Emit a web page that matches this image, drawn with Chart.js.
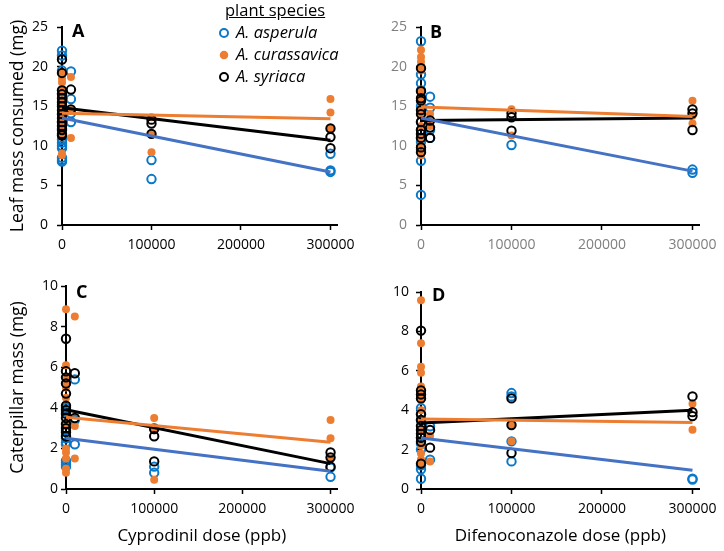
<!DOCTYPE html>
<html>
<head>
<meta charset="utf-8">
<script src="https://cdn.jsdelivr.net/npm/chart.js@4.4.0/dist/chart.umd.min.js"></script>
<style>
  body { margin: 0; background: #fff; font-family: 'Open Sans', sans-serif; }
  #page { position: relative; width: 724px; height: 551px; overflow: hidden; }
  .panel { position: absolute; }
  .letter { position: absolute; font-weight: bold; font-size: 18px; line-height: 18px; color: #000; }
  #legend { position: absolute; left: 219px; top: -1px; font-size: 16.5px; color: #000; }
  #legend .head { text-decoration: underline; margin-left: 6px; line-height: 22px; }
  #legend .row { font-style: italic; line-height: 22px; white-space: nowrap; }
  #legend .dot { display: inline-block; width: 10px; height: 10px; border-radius: 50%; margin-right: 7px; vertical-align: 0px; box-sizing: border-box; }
</style>
</head>
<body>
<div id="page">
  <div class="panel" style="left:0;top:0"><canvas id="chartA" width="362" height="262"></canvas></div>
  <div class="panel" style="left:362px;top:0"><canvas id="chartB" width="362" height="262"></canvas></div>
  <div class="panel" style="left:0;top:262px"><canvas id="chartC" width="362" height="289"></canvas></div>
  <div class="panel" style="left:362px;top:262px"><canvas id="chartD" width="362" height="289"></canvas></div>
  <div class="letter" style="left:72px;top:21px">A</div>
  <div class="letter" style="left:430px;top:22px">B</div>
  <div class="letter" style="left:76px;top:282px">C</div>
  <div class="letter" style="left:432px;top:285px">D</div>
  <div id="legend">
    <div class="head">plant species</div>
    <div class="row"><span class="dot" style="border:2px solid #0a78c8"></span>A. asperula</div>
    <div class="row"><span class="dot" style="background:#ed7d31;transform:scale(0.85)"></span>A. curassavica</div>
    <div class="row"><span class="dot" style="border:2px solid #000"></span>A. syriaca</div>
  </div>
</div>
<script>
const doseTicks = [0, 100000, 200000, 300000];
const fitDoses = [0, 300000];
const leafTicks = [0, 5, 10, 15, 20, 25];
const massTicks = [0, 2, 4, 6, 8, 10];

// A: leaf mass consumed vs cyprodinil dose  [dose, mg]
const leafCypAsperula = [[0,22.0],[0,21.4],[0,19.5],[0,17.0],[0,16.6],[0,15.2],[0,14.0],[0,13.0],[0,12.2],[0,10.8],[0,10.4],[0,10.0],[0,9.7],[0,8.5],[0,8.2],[0,8.0],
  [10000,19.4],[10000,15.9],[10000,14.1],[10000,13.0],[100000,8.2],[100000,5.8],[300000,9.0],[300000,6.9],[300000,6.7]];
const leafCypCurassavica = [[0,19.3],[0,18.5],[0,18.0],[0,17.0],[0,16.7],[0,15.5],[0,14.5],[0,13.5],[0,13.0],[0,12.5],[0,12.0],[0,11.5],[0,9.0],[0,8.8],
  [10000,18.7],[10000,14.5],[10000,11.0],[100000,13.6],[100000,11.6],[100000,9.2],[300000,15.9],[300000,14.2],[300000,12.2],[300000,12.0]];
const leafCypSyriaca = [[0,20.9],[0,19.2],[0,17.0],[0,16.5],[0,16.0],[0,15.5],[0,15.0],[0,14.5],[0,14.0],[0,13.5],[0,13.0],[0,12.5],[0,12.0],[0,11.5],[0,11.3],
  [10000,17.1],[10000,14.6],[100000,13.3],[100000,12.8],[100000,11.5],[300000,12.2],[300000,11.1],[300000,9.7]];
const leafCypFits = [[13.5, 6.7], [14.1, 13.4], [14.8, 10.7]];

// B: leaf mass consumed vs difenoconazole dose
const leafDifAsperula = [[0,23.2],[0,19.0],[0,17.9],[0,17.0],[0,15.0],[0,13.0],[0,12.0],[0,11.0],[0,10.5],[0,9.5],[0,8.1],[0,3.8],
  [10000,16.2],[10000,14.8],[10000,12.0],[10000,11.0],[100000,10.1],[300000,7.0],[300000,6.6]];
const leafDifCurassavica = [[0,22.1],[0,21.2],[0,20.6],[0,20.0],[0,19.5],[0,17.0],[0,16.0],[0,15.0],[0,14.0],[0,12.5],[0,11.0],[0,10.0],[0,9.0],[0,8.8],
  [10000,14.0],[10000,13.0],[10000,12.5],[100000,14.6],[100000,11.3],[300000,15.7],[300000,13.8],[300000,12.8]];
const leafDifSyriaca = [[0,19.8],[0,16.9],[0,16.0],[0,15.7],[0,14.5],[0,14.0],[0,13.0],[0,12.0],[0,11.5],[0,11.0],[0,9.8],[0,9.2],
  [10000,13.2],[10000,12.3],[10000,11.0],[100000,14.1],[100000,13.6],[100000,11.9],[300000,14.6],[300000,14.1],[300000,12.0]];
const leafDifFits = [[13.5, 6.8], [14.9, 13.7], [13.2, 13.5]];

// C: caterpillar mass vs cyprodinil dose
const massCypAsperula = [[0,4.0],[0,3.8],[0,2.9],[0,2.5],[0,2.3],[0,2.2],[0,1.4],[0,1.3],[0,1.2],[0,1.1],
  [10000,5.4],[10000,3.4],[10000,2.2],[100000,3.0],[100000,1.1],[100000,0.8],[300000,1.05],[300000,0.6]];
const massCypCurassavica = [[0,8.85],[0,6.1],[0,5.5],[0,5.2],[0,5.0],[0,4.5],[0,3.2],[0,2.0],[0,1.8],[0,1.5],[0,1.0],[0,0.8],
  [10000,8.5],[10000,3.1],[10000,1.5],[100000,3.5],[100000,2.9],[100000,0.46],[300000,3.4],[300000,2.5],[300000,1.5]];
const massCypSyriaca = [[0,7.4],[0,5.8],[0,5.5],[0,5.2],[0,4.7],[0,4.1],[0,3.9],[0,3.7],[0,3.5],[0,3.2],[0,3.0],[0,2.8],[0,2.6],
  [10000,5.7],[10000,3.5],[100000,2.95],[100000,2.6],[100000,1.36],[300000,1.8],[300000,1.55],[300000,1.1]];
const massCypFits = [[2.5, 0.87], [3.54, 2.3], [3.9, 1.25]];

// D: caterpillar mass vs difenoconazole dose
const massDifAsperula = [[0,4.1],[0,3.8],[0,3.5],[0,2.6],[0,2.3],[0,2.0],[0,1.2],[0,1.0],[0,0.52],
  [10000,3.18],[10000,1.49],[100000,4.87],[100000,4.7],[100000,2.42],[100000,1.4],[300000,0.52],[300000,0.48]];
const massDifCurassavica = [[0,9.58],[0,7.4],[0,6.2],[0,5.9],[0,5.2],[0,4.8],[0,4.5],[0,4.0],[0,3.5],[0,3.0],[0,2.2],[0,1.8],[0,1.5],[0,1.3],
  [10000,2.7],[10000,1.39],[100000,3.27],[100000,2.42],[300000,4.33],[300000,3.01]];
const massDifSyriaca = [[0,8.04],[0,5.0],[0,4.8],[0,4.6],[0,3.8],[0,3.5],[0,3.2],[0,3.0],[0,2.8],[0,2.6],[0,2.4],[0,1.29],
  [10000,3.0],[10000,2.1],[100000,4.6],[100000,3.25],[100000,1.83],[300000,4.7],[300000,3.9],[300000,3.7]];
const massDifFits = [[2.59, 0.95], [3.55, 3.38], [3.35, 4.0]];

const fontFamily = "'Open Sans', sans-serif";
const pointColors = ['#0a78c8', '#ed7d31', '#000000'];
const lineColors = ['#4472c4', '#ed7d31', '#000000'];

function toXY(pairs) {
  return pairs.map(p => ({ x: p[0], y: p[1] }));
}

function makePanel(id, series, fits, o) {
  const datasets = [];
  series.forEach((s, i) => {
    const filled = i === 1;
    datasets.push({
      data: toXY(s),
      pointRadius: filled ? 4 : 4.2,
      pointHoverRadius: 4,
      pointBorderWidth: filled ? 0 : 2,
      pointBorderColor: pointColors[i],
      pointBackgroundColor: filled ? pointColors[i] : 'rgba(0,0,0,0)',
      showLine: false,
      clip: false,
      order: 3 - i
    });
  });
  fits.forEach((f, i) => {
    datasets.push({
      data: fitDoses.map((d, k) => ({ x: d, y: f[k] })),
      showLine: true,
      borderColor: lineColors[i],
      borderWidth: 3,
      pointRadius: 0,
      clip: false,
      order: 0
    });
  });

  new Chart(document.getElementById(id), {
    type: 'scatter',
    data: { datasets: datasets },
    options: {
      responsive: false,
      animation: false,
      layout: { padding: { top: o.padTop, right: o.padRight, left: 0, bottom: 0 } },
      plugins: { legend: { display: false }, tooltip: { enabled: false } },
      scales: {
        x: {
          type: 'linear', min: 0, max: 308000,
          afterBuildTicks: s => { s.ticks = doseTicks.map(v => ({ value: v })); },
          afterFit: s => { s.height = o.xHeight; },
          grid: { drawOnChartArea: false, tickLength: 5, tickColor: '#000', tickWidth: 1.5 },
          border: { color: '#000', width: 2 },
          ticks: { color: o.tickColor, font: { family: fontFamily, size: 14 }, padding: 7, maxRotation: 0, autoSkip: false, callback: v => String(v) },
          title: { display: !!o.xTitle, text: o.xTitle, color: '#000', font: { family: fontFamily, size: 17 }, padding: { top: 2, bottom: 5 } }
        },
        y: {
          min: 0, max: o.yTicks[o.yTicks.length - 1],
          afterBuildTicks: s => { s.ticks = o.yTicks.map(v => ({ value: v })); },
          afterFit: s => { s.width = o.yWidth; },
          grid: { drawOnChartArea: false, tickLength: 5, tickColor: '#000', tickWidth: 1.5 },
          border: { color: '#000', width: 2 },
          ticks: { color: o.tickColor, font: { family: fontFamily, size: 14 }, padding: o.yPad, callback: v => String(v) },
          title: { display: !!o.yTitle, text: o.yTitle, color: '#000', font: { family: fontFamily, size: 17.5 }, padding: { top: 8, bottom: 0 } }
        }
      }
    }
  });
}

makePanel('chartA', [leafCypAsperula, leafCypCurassavica, leafCypSyriaca], leafCypFits,
  { yTicks: leafTicks, yTitle: 'Leaf mass consumed (mg)', xTitle: '', tickColor: '#000', padTop: 27, padRight: 20, xHeight: 37, yWidth: 62, yPad: 9 });
makePanel('chartB', [leafDifAsperula, leafDifCurassavica, leafDifSyriaca], leafDifFits,
  { yTicks: leafTicks, yTitle: '', xTitle: '', tickColor: '#7f7f7f', padTop: 27, padRight: 19, xHeight: 37, yWidth: 59, yPad: 9 });
makePanel('chartC', [massCypAsperula, massCypCurassavica, massCypSyriaca], massCypFits,
  { yTicks: massTicks, yTitle: 'Caterpillar mass (mg)', xTitle: 'Cyprodinil dose (ppb)', tickColor: '#000', padTop: 24, padRight: 17, xHeight: 62, yWidth: 66, yPad: 3 });
makePanel('chartD', [massDifAsperula, massDifCurassavica, massDifSyriaca], massDifFits,
  { yTicks: massTicks, yTitle: '', xTitle: 'Difenoconazole dose (ppb)', tickColor: '#000', padTop: 30, padRight: 19, xHeight: 62, yWidth: 59, yPad: 7 });
</script>
</body>
</html>
